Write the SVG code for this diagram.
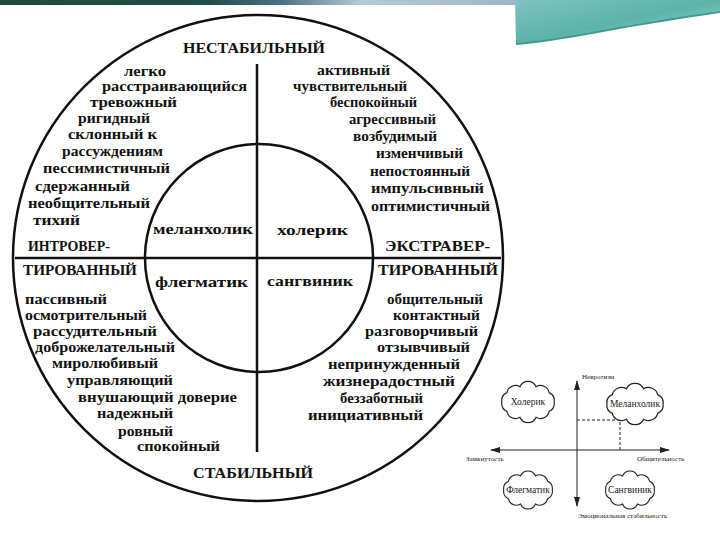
<svg xmlns="http://www.w3.org/2000/svg" width="720" height="540" viewBox="0 0 720 540">
<defs>
<style>
.t{font-family:"Liberation Serif","DejaVu Serif",serif;font-weight:bold;font-size:15px;fill:#111}
.c{font-family:"Liberation Serif","DejaVu Serif",serif;font-weight:bold;font-size:15px;fill:#111}
.s{font-family:"Liberation Serif","DejaVu Serif",serif;font-size:7px;fill:#222}
.n{font-family:"Liberation Serif","DejaVu Serif",serif;font-size:9.5px;fill:#222;text-anchor:middle}
.ln{stroke:#111;stroke-width:2.5;fill:none}
.ax{stroke:#222;stroke-width:1;fill:none}
.cl{stroke:#222;stroke-width:1.2;fill:#fff}
</style>
<linearGradient id="bar" x1="0" y1="0" x2="1" y2="0">
<stop offset="0" stop-color="#1d4a36"/>
<stop offset="0.4" stop-color="#1f4d48"/>
<stop offset="0.55" stop-color="#4d7484"/>
<stop offset="0.7" stop-color="#b9c9d5"/>
<stop offset="1" stop-color="#9fb6c6"/>
</linearGradient>
<linearGradient id="teal" x1="0" y1="0" x2="1" y2="1">
<stop offset="0" stop-color="#7fc2c0"/>
<stop offset="0.5" stop-color="#5db3a8"/>
<stop offset="1" stop-color="#a9dcd6"/>
</linearGradient>
<marker id="ah" viewBox="0 0 10 6" refX="9" refY="3" markerWidth="10" markerHeight="6" markerUnits="userSpaceOnUse" orient="auto-start-reverse">
<path d="M0,0 L10,3 L0,6 Z" fill="#222"/>
</marker>
<path id="cloud" d="M27,0 A9,9 0 0 1 21.8,9.4 A9,9 0 0 1 8.3,15.2 A9,9 0 0 1 -8.3,15.2 A9,9 0 0 1 -21.8,9.4 A9,9 0 0 1 -27,0 A9,9 0 0 1 -21.8,-9.4 A9,9 0 0 1 -8.3,-15.2 A9,9 0 0 1 8.3,-15.2 A9,9 0 0 1 21.8,-9.4 A9,9 0 0 1 27,0 Z"/>
</defs>
<rect width="720" height="540" fill="#fff"/>
<g id="banner">
<rect x="0" y="0" width="516" height="5" fill="url(#bar)"/>
<path d="M515,0 H720 V12 C690,16 655,22 625,27 C590,33 560,40 516,44 Z" fill="url(#teal)"/>
<path d="M516,44 C560,40 590,33 625,27 C655,22 690,16 720,12" stroke="#3f9c8e" stroke-width="2" fill="none"/>
</g>
<g id="connectors">
<ellipse class="ln" cx="258" cy="258" rx="245" ry="243"/>
<circle class="ln" cx="259" cy="258" r="114"/>
<line class="ln" x1="15" y1="258" x2="501" y2="258"/>
<line class="ln" x1="257" y1="64" x2="257" y2="452"/>
</g>
<g id="top-label"><text class="c" x="183" y="53" textLength="142" lengthAdjust="spacingAndGlyphs">НЕСТАБИЛЬНЫЙ</text></g>
<g id="bottom-label"><text class="c" x="193" y="478" textLength="120" lengthAdjust="spacingAndGlyphs">СТАБИЛЬНЫЙ</text></g>
<g id="introvert-label">
<text class="c" x="28" y="251" textLength="82" lengthAdjust="spacingAndGlyphs">ИНТРОВЕР-</text>
<text class="c" x="23" y="275" textLength="114" lengthAdjust="spacingAndGlyphs">ТИРОВАННЫЙ</text>
</g>
<g id="extravert-label">
<text class="c" x="385" y="251" textLength="105" lengthAdjust="spacingAndGlyphs">ЭКСТРАВЕР-</text>
<text class="c" x="378" y="275" textLength="120" lengthAdjust="spacingAndGlyphs">ТИРОВАННЫЙ</text>
</g>
<g id="melancholic"><text class="t" x="153" y="234" textLength="100" lengthAdjust="spacingAndGlyphs">меланхолик</text></g>
<g id="choleric"><text class="t" x="277" y="235" textLength="71" lengthAdjust="spacingAndGlyphs">холерик</text></g>
<g id="phlegmatic"><text class="t" x="155" y="287" textLength="93" lengthAdjust="spacingAndGlyphs">флегматик</text></g>
<g id="sanguine"><text class="t" x="267" y="286" textLength="86" lengthAdjust="spacingAndGlyphs">сангвиник</text></g>
<g id="traits-melancholic">
<text class="t" x="124" y="76" textLength="42" lengthAdjust="spacingAndGlyphs">легко</text>
<text class="t" x="102" y="91" textLength="145" lengthAdjust="spacingAndGlyphs">расстраивающийся</text>
<text class="t" x="90" y="107" textLength="87" lengthAdjust="spacingAndGlyphs">тревожный</text>
<text class="t" x="78" y="123" textLength="72" lengthAdjust="spacingAndGlyphs">ригидный</text>
<text class="t" x="68" y="139" textLength="89" lengthAdjust="spacingAndGlyphs">склонный к</text>
<text class="t" x="62" y="156" textLength="101" lengthAdjust="spacingAndGlyphs">рассуждениям</text>
<text class="t" x="43" y="173" textLength="127" lengthAdjust="spacingAndGlyphs">пессимистичный</text>
<text class="t" x="35" y="191" textLength="95" lengthAdjust="spacingAndGlyphs">сдержанный</text>
<text class="t" x="28" y="208" textLength="122" lengthAdjust="spacingAndGlyphs">необщительный</text>
<text class="t" x="33" y="225" textLength="47" lengthAdjust="spacingAndGlyphs">тихий</text>
</g>
<g id="traits-choleric">
<text class="t" x="317" y="75" textLength="73" lengthAdjust="spacingAndGlyphs">активный</text>
<text class="t" x="293" y="91" textLength="114" lengthAdjust="spacingAndGlyphs">чувствительный</text>
<text class="t" x="330" y="107" textLength="87" lengthAdjust="spacingAndGlyphs">беспокойный</text>
<text class="t" x="349" y="124" textLength="87" lengthAdjust="spacingAndGlyphs">агрессивный</text>
<text class="t" x="353" y="141" textLength="84" lengthAdjust="spacingAndGlyphs">возбудимый</text>
<text class="t" x="376" y="158" textLength="87" lengthAdjust="spacingAndGlyphs">изменчивый</text>
<text class="t" x="370" y="176" textLength="100" lengthAdjust="spacingAndGlyphs">непостоянный</text>
<text class="t" x="371" y="193" textLength="113" lengthAdjust="spacingAndGlyphs">импульсивный</text>
<text class="t" x="371" y="211" textLength="119" lengthAdjust="spacingAndGlyphs">оптимистичный</text>
</g>
<g id="traits-phlegmatic">
<text class="t" x="25" y="304" textLength="82" lengthAdjust="spacingAndGlyphs">пассивный</text>
<text class="t" x="25" y="320" textLength="122" lengthAdjust="spacingAndGlyphs">осмотрительный</text>
<text class="t" x="33" y="336" textLength="124" lengthAdjust="spacingAndGlyphs">рассудительный</text>
<text class="t" x="35" y="352" textLength="140" lengthAdjust="spacingAndGlyphs">доброжелательный</text>
<text class="t" x="52" y="368" textLength="106" lengthAdjust="spacingAndGlyphs">миролюбивый</text>
<text class="t" x="67" y="385" textLength="106" lengthAdjust="spacingAndGlyphs">управляющий</text>
<text class="t" x="78" y="402" textLength="159" lengthAdjust="spacingAndGlyphs">внушающий доверие</text>
<text class="t" x="97" y="418" textLength="76" lengthAdjust="spacingAndGlyphs">надежный</text>
<text class="t" x="118" y="436" textLength="55" lengthAdjust="spacingAndGlyphs">ровный</text>
<text class="t" x="137" y="451" textLength="83" lengthAdjust="spacingAndGlyphs">спокойный</text>
</g>
<g id="traits-sanguine">
<text class="t" x="387" y="304" textLength="96" lengthAdjust="spacingAndGlyphs">общительный</text>
<text class="t" x="393" y="320" textLength="87" lengthAdjust="spacingAndGlyphs">контактный</text>
<text class="t" x="365" y="336" textLength="113" lengthAdjust="spacingAndGlyphs">разговорчивый</text>
<text class="t" x="377" y="352" textLength="93" lengthAdjust="spacingAndGlyphs">отзывчивый</text>
<text class="t" x="328" y="369" textLength="132" lengthAdjust="spacingAndGlyphs">непринужденный</text>
<text class="t" x="323" y="386" textLength="132" lengthAdjust="spacingAndGlyphs">жизнерадостный</text>
<text class="t" x="340" y="403" textLength="83" lengthAdjust="spacingAndGlyphs">беззаботный</text>
<text class="t" x="308" y="420" textLength="115" lengthAdjust="spacingAndGlyphs">инициативный</text>
</g>
<g id="inset-axes">
<line class="ax" x1="577" y1="506" x2="577" y2="381" marker-end="url(#ah)" marker-start="url(#ah)"/>
<line class="ax" x1="491" y1="450" x2="669" y2="450" marker-end="url(#ah)" marker-start="url(#ah)"/>
<path class="ax" d="M577,420 H620 V450" stroke-dasharray="3,2"/>
<text class="s" x="582" y="379">Невротизм</text>
<text class="s" x="466" y="461">Замкнутость</text>
<text class="s" x="637" y="461">Общительность</text>
<text class="s" x="578" y="518">Эмоциональная стабильность</text>
</g>
<g id="inset-choleric"><use href="#cloud" class="cl" transform="translate(528,402) scale(0.97,1)"/><text class="n" x="528" y="405">Холерик</text></g>
<g id="inset-melancholic"><use href="#cloud" class="cl" transform="translate(635,404) scale(1.04,1)"/><text class="n" x="635" y="407">Меланхолик</text></g>
<g id="inset-phlegmatic"><use href="#cloud" class="cl" transform="translate(528,490) scale(0.9,0.92)"/><text class="n" x="528" y="493">Флегматик</text></g>
<g id="inset-sanguine"><use href="#cloud" class="cl" transform="translate(630,490) scale(0.9,0.92)"/><text class="n" x="630" y="493">Сангвиник</text></g>
</svg>
